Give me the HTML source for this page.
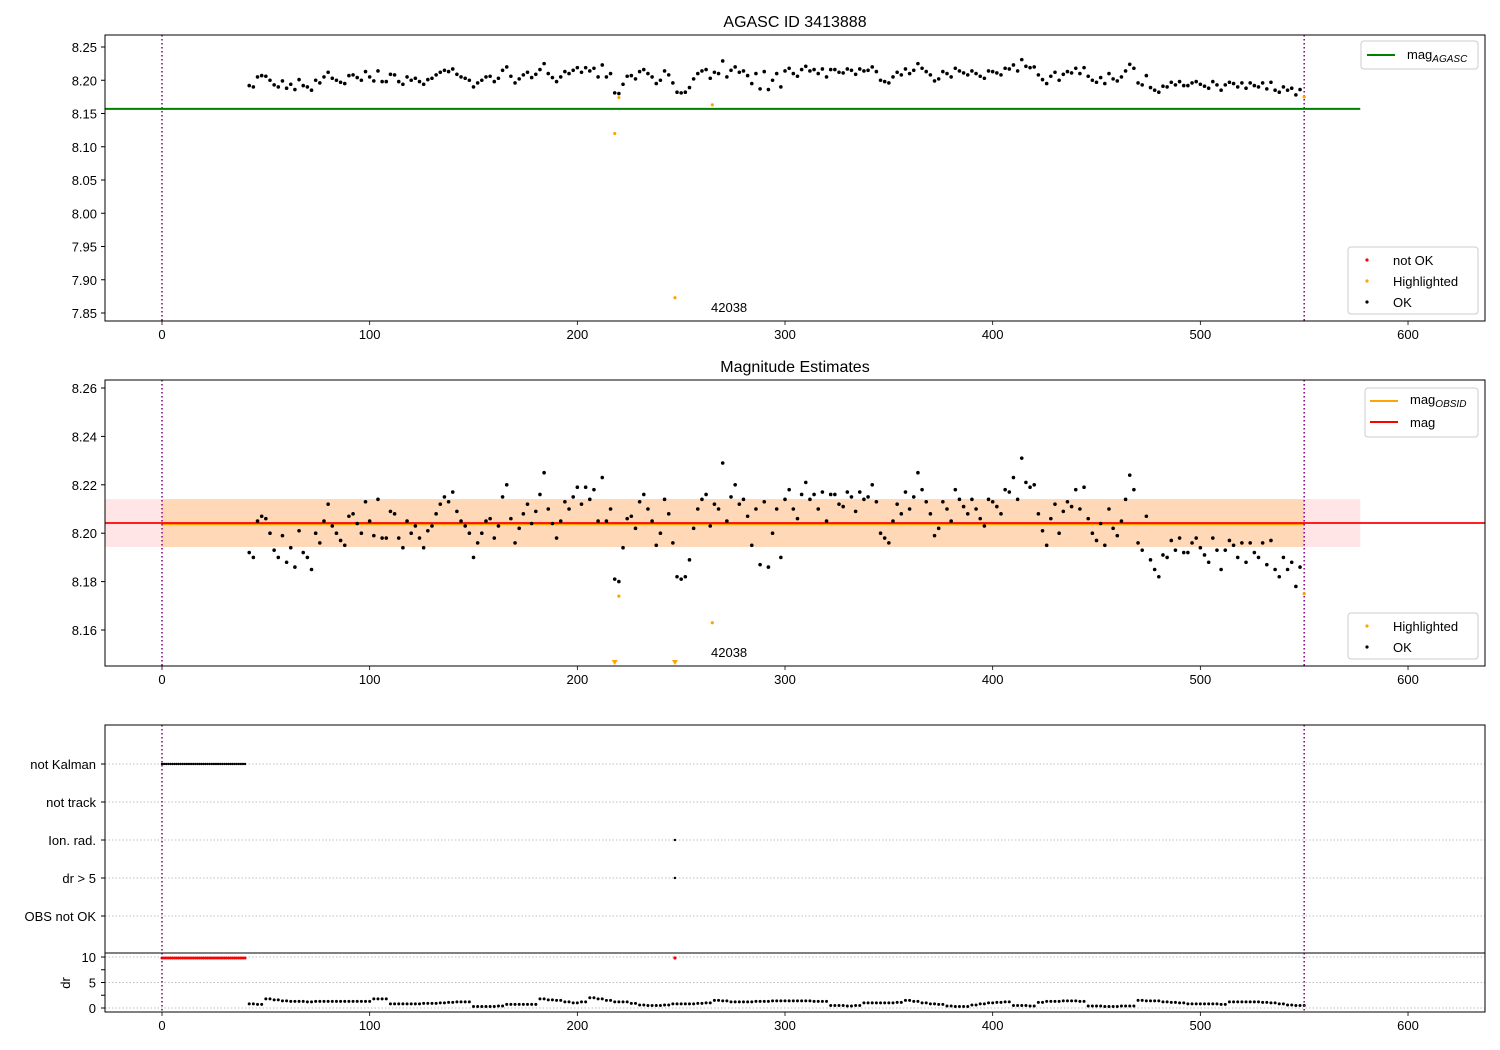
<!DOCTYPE html>
<html><head><meta charset="utf-8"><style>
body{margin:0;background:#fff}
svg{display:block;font-family:"Liberation Sans","DejaVu Sans",sans-serif}
</style></head><body>
<svg id="c" width="1500" height="1050" viewBox="0 0 1500 1050" xmlns="http://www.w3.org/2000/svg"></svg>
<script>
const magX=[42,44,46,48,50,52,54,56,58,60,62,64,66,68,70,72,74,76,78,80,82,84,86,88,90,92,94,96,98,100,102,104,106,108,110,112,114,116,118,120,122,124,126,128,130,132,134,136,138,140,142,144,146,148,150,152,154,156,158,160,162,164,166,168,170,172,174,176,178,180,182,184,186,188,190,192,194,196,198,200,202,204,206,208,210,212,214,216,218,220,222,224,226,228,230,232,234,236,238,240,242,244,246,248,250,252,254,256,258,260,262,264,266,268,270,272,274,276,278,280,282,284,286,288,290,292,294,296,298,300,302,304,306,308,310,312,314,316,318,320,322,324,326,328,330,332,334,336,338,340,342,344,346,348,350,352,354,356,358,360,362,364,366,368,370,372,374,376,378,380,382,384,386,388,390,392,394,396,398,400,402,404,406,408,410,412,414,416,418,420,422,424,426,428,430,432,434,436,438,440,442,444,446,448,450,452,454,456,458,460,462,464,466,468,470,472,474,476,478,480,482,484,486,488,490,492,494,496,498,500,502,504,506,508,510,512,514,516,518,520,522,524,526,528,530,532,534,536,538,540,542,544,546,548];
const magV=[8.192,8.190,8.205,8.207,8.206,8.200,8.193,8.190,8.199,8.188,8.194,8.186,8.201,8.192,8.190,8.185,8.200,8.196,8.205,8.212,8.203,8.200,8.197,8.195,8.207,8.208,8.204,8.200,8.213,8.205,8.199,8.214,8.198,8.198,8.209,8.208,8.198,8.194,8.205,8.200,8.203,8.198,8.194,8.201,8.203,8.208,8.212,8.215,8.213,8.217,8.209,8.205,8.203,8.200,8.190,8.196,8.200,8.205,8.206,8.198,8.203,8.215,8.220,8.206,8.196,8.202,8.208,8.212,8.204,8.209,8.216,8.225,8.210,8.204,8.198,8.205,8.213,8.210,8.215,8.219,8.212,8.219,8.214,8.218,8.205,8.223,8.205,8.210,8.181,8.180,8.194,8.206,8.207,8.202,8.213,8.216,8.210,8.205,8.195,8.200,8.214,8.208,8.196,8.182,8.181,8.182,8.189,8.202,8.210,8.214,8.216,8.203,8.212,8.210,8.229,8.205,8.215,8.220,8.212,8.214,8.207,8.195,8.210,8.187,8.213,8.186,8.200,8.210,8.190,8.214,8.218,8.210,8.206,8.216,8.221,8.214,8.216,8.210,8.217,8.205,8.216,8.216,8.212,8.211,8.217,8.215,8.209,8.217,8.214,8.215,8.220,8.213,8.200,8.198,8.196,8.205,8.212,8.208,8.217,8.210,8.215,8.225,8.218,8.213,8.208,8.199,8.202,8.213,8.210,8.205,8.218,8.214,8.211,8.208,8.214,8.210,8.206,8.203,8.214,8.213,8.211,8.208,8.218,8.217,8.223,8.214,8.231,8.221,8.219,8.220,8.208,8.201,8.195,8.206,8.212,8.200,8.209,8.213,8.211,8.218,8.210,8.219,8.206,8.200,8.197,8.204,8.195,8.210,8.202,8.199,8.205,8.214,8.224,8.218,8.196,8.193,8.207,8.189,8.185,8.182,8.191,8.190,8.197,8.193,8.198,8.192,8.192,8.196,8.198,8.194,8.191,8.188,8.198,8.193,8.185,8.193,8.197,8.195,8.190,8.196,8.188,8.196,8.192,8.190,8.196,8.187,8.197,8.185,8.182,8.190,8.185,8.188,8.178,8.186];
const hiX=[218,220,247,265,550];
const hiV=[8.120,8.174,7.873,8.163,8.175];
const drV=[0.8,0.7,1.8,1.6,1.4,1.3,1.3,1.2,1.3,1.3,1.3,1.3,1.3,1.3,1.3,1.8,1.8,0.8,0.8,0.8,0.8,0.9,0.9,1.0,1.1,1.2,1.2,0.3,0.3,0.3,0.4,0.7,0.7,0.7,0.7,1.8,1.6,1.5,1.2,1.0,1.2,2.0,1.8,1.5,1.2,1.2,0.9,0.6,0.5,0.5,0.6,0.8,0.8,0.8,0.9,1.0,1.5,1.4,1.2,1.2,1.2,1.3,1.3,1.4,1.4,1.4,1.4,1.4,1.3,1.3,0.5,0.5,0.4,0.5,1.0,1.0,1.0,1.0,1.1,1.5,1.3,1.0,0.8,0.7,0.4,0.3,0.3,0.6,0.8,1.0,1.1,1.2,0.5,0.5,0.4,1.1,1.3,1.3,1.4,1.4,1.3,0.4,0.4,0.3,0.3,0.4,0.4,1.5,1.4,1.4,1.2,1.1,1.0,0.8,0.8,0.8,0.8,0.7,1.2,1.2,1.2,1.2,1.1,1.0,0.8,0.6,0.5,0.5,0.3,0.1];
const flagLabels=["not Kalman","not track","Ion. rad.","dr > 5","OBS not OK"];
const xTicks=[0,100,200,300,400,500,600];
const y1Ticks=[7.85,7.90,7.95,8.00,8.05,8.10,8.15,8.20,8.25];
const y2Ticks=[8.16,8.18,8.20,8.22,8.24,8.26];
const agascMag=8.157, obsMag=8.2037, mag=8.2042, bandLo=8.1943, bandHi=8.2141;

const svg=document.getElementById('c');const NS='http://www.w3.org/2000/svg';
function el(t,a,p){const e=document.createElementNS(NS,t);for(const k in a)e.setAttribute(k,a[k]);(p||svg).appendChild(e);return e;}
function tx(s,a,p){const e=el('text',a,p);e.textContent=s;return e;}
const X=v=>162+v*2.0767;
const Y1=v=>47+(8.25-v)*665;
const Y2=v=>388+(8.26-v)*2420;
const L=105,R=1485;

function xAxis(top,bot,name){
  const g=el('g',{});
  
  
  xTicks.forEach(t=>{const x=X(t);el('line',{x1:x,x2:x,y1:bot,y2:bot+4,stroke:'#000','stroke-width':0.8},g);
    tx(String(t),{x:x,y:bot+18,'text-anchor':'middle','font-size':13},g);});
}
function frame(top,bot,name){
  const r=el('rect',{x:L,y:top,width:R-L,height:bot-top,fill:'none',stroke:'#000','stroke-width':1});
  
  
}
function vlines(top,bot){[0,550].forEach(v=>{el('line',{x1:X(v),x2:X(v),y1:top,y2:bot,stroke:'#800080','stroke-width':1.5,'stroke-dasharray':'1.5,2.5'});});}
function dot(x,y,c,r,name){const e=el('circle',{cx:x,cy:y,r:r||1.8,fill:c});return e;}

tx('AGASC ID 3413888',{x:795,y:27,'text-anchor':'middle','font-size':16});
vlines(35,321);
el('line',{x1:L,x2:X(577),y1:Y1(agascMag),y2:Y1(agascMag),stroke:'#008000','stroke-width':2});
magX.forEach((x,i)=>dot(X(x),Y1(magV[i]),'#000',1.8,'ok-point'));
hiX.forEach((x,i)=>dot(X(x),Y1(hiV[i]),'#ffa500',1.6,'highlighted-point'));
tx('42038',{x:711,y:312,'font-size':13});
frame(35,321,'panel-agasc');
y1Ticks.forEach(t=>{const y=Y1(t);el('line',{x1:L-4,x2:L,y1:y,y2:y,stroke:'#000'});tx(t.toFixed(2),{x:97,y:y+5,'text-anchor':'end','font-size':13});});
xAxis(35,321,'x-axis-agasc');
let g=el('g',{});
el('rect',{x:1361,y:41,width:117,height:28,rx:3,fill:'#fff',stroke:'#ccc'},g);
el('line',{x1:1367,x2:1395,y1:55,y2:55,stroke:'#008000','stroke-width':2},g);
let t=tx('mag',{x:1407,y:59,'font-size':13},g);const ts=el('tspan',{'font-size':10,'font-style':'italic',dy:3},t);ts.textContent='AGASC';
g=el('g',{});
el('rect',{x:1348,y:247,width:130,height:67,rx:3,fill:'#fff',stroke:'#ccc'},g);
[['not OK','#ff0000',260],['Highlighted','#ffa500',281],['OK','#000',302]].forEach(a=>{el('circle',{cx:1367,cy:a[2],r:1.6,fill:a[1]},g);tx(a[0],{x:1393,y:a[2]+5,'font-size':13},g);});

tx('Magnitude Estimates',{x:795,y:372,'text-anchor':'middle','font-size':16});
el('rect',{x:L,y:Y2(bandHi),width:X(577)-L,height:Y2(bandLo)-Y2(bandHi),fill:'#ff0000','fill-opacity':0.1});
el('rect',{x:X(0),y:Y2(bandHi),width:X(550)-X(0),height:Y2(bandLo)-Y2(bandHi),fill:'#ffa500','fill-opacity':0.2});
el('line',{x1:X(0),x2:X(550),y1:Y2(obsMag),y2:Y2(obsMag),stroke:'#ffa500','stroke-width':2});
el('line',{x1:L,x2:R,y1:Y2(mag),y2:Y2(mag),stroke:'#ff0000','stroke-width':1.8});
vlines(380,666);
magX.forEach((x,i)=>dot(X(x),Y2(magV[i]),'#000',1.8,'ok-point'));
hiX.forEach((x,i)=>{const v=hiV[i];if(v>=8.1451)dot(X(x),Y2(v),'#ffa500',1.6,'highlighted-point');
  else{const px=X(x);const e=el('path',{d:`M${px-3},660 L${px+3},660 L${px},665 Z`,fill:'#ffa500'});}});
tx('42038',{x:711,y:657,'font-size':13});
frame(380,666,'panel-estimates');
y2Ticks.forEach(t=>{const y=Y2(t);el('line',{x1:L-4,x2:L,y1:y,y2:y,stroke:'#000'});tx(t.toFixed(2),{x:97,y:y+5,'text-anchor':'end','font-size':13});});
xAxis(380,666,'x-axis-estimates');
g=el('g',{});
el('rect',{x:1365,y:388,width:113,height:49,rx:3,fill:'#fff',stroke:'#ccc'},g);
el('line',{x1:1370,x2:1398,y1:401,y2:401,stroke:'#ffa500','stroke-width':2},g);
t=tx('mag',{x:1410,y:404,'font-size':13},g);const ts2=el('tspan',{'font-size':10,'font-style':'italic',dy:3},t);ts2.textContent='OBSID';
el('line',{x1:1370,x2:1398,y1:422,y2:422,stroke:'#ff0000','stroke-width':2},g);
tx('mag',{x:1410,y:427,'font-size':13},g);
g=el('g',{});
el('rect',{x:1348,y:613,width:130,height:46,rx:3,fill:'#fff',stroke:'#ccc'},g);
[['Highlighted','#ffa500',626],['OK','#000',647]].forEach(a=>{el('circle',{cx:1367,cy:a[2],r:1.6,fill:a[1]},g);tx(a[0],{x:1393,y:a[2]+5,'font-size':13},g);});

const flagY=[764,802,840,878,916];
flagLabels.forEach((s,i)=>{el('line',{x1:L,x2:R,y1:flagY[i],y2:flagY[i],stroke:'#aaa','stroke-width':0.8,'stroke-dasharray':'1.5,2'});
  el('line',{x1:L-4,x2:L,y1:flagY[i],y2:flagY[i],stroke:'#000'});
  tx(s,{x:96,y:flagY[i]+5,'text-anchor':'end','font-size':13});});
for(let v=0;v<=40;v+=1){dot(X(v),764,'#000',1.2,'flag-point');}
dot(X(247),840,'#000',1.2,'flag-point');dot(X(247),878,'#000',1.2,'flag-point');
const Yd=v=>1008-v*5.1;
[0,5,10].forEach(v=>{el('line',{x1:L,x2:R,y1:Yd(v),y2:Yd(v),stroke:'#aaa','stroke-width':0.8,'stroke-dasharray':'1.5,2'});tx(String(v),{x:96,y:Yd(v)+5,'text-anchor':'end','font-size':13});});
[0,2.5,5,7.5,10].forEach(v=>el('line',{x1:L-4,x2:L,y1:Yd(v),y2:Yd(v),stroke:'#000'}));
tx('dr',{x:70,y:983,'text-anchor':'middle','font-size':13,transform:'rotate(-90 70 983)'});
for(let v=0;v<=40;v+=1){dot(X(v),Yd(9.8),'#ff0000',1.5,'dr-bad-point');}
dot(X(247),Yd(9.8),'#ff0000',1.6,'dr-bad-point');
drV.forEach((d,i)=>{const x0=42+4*i;if(x0<=550)dot(X(x0),Yd(d),'#000',1.5,'dr-point');if(x0+2<=550)dot(X(x0+2),Yd(d),'#000',1.5,'dr-point');});
vlines(725,1012);
frame(725,953,'panel-flags');frame(953,1012,'panel-dr');
xAxis(953,1012,'x-axis-dr');
</script>
</body></html>
